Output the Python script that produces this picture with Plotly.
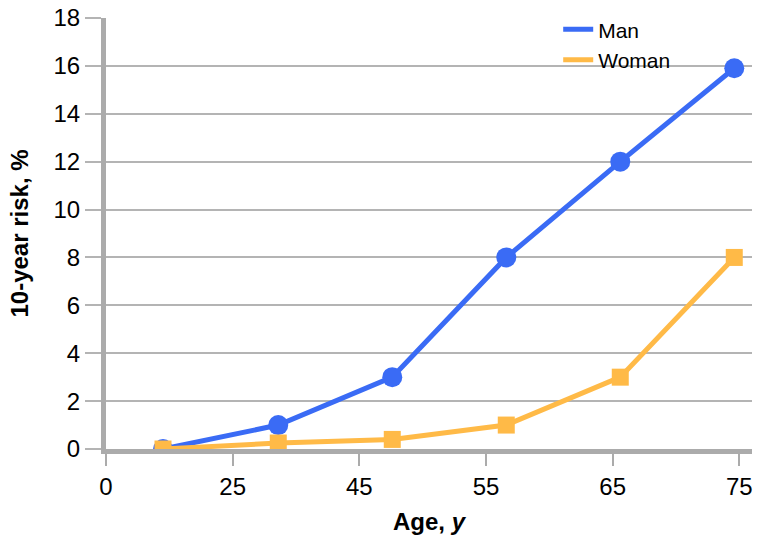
import plotly.graph_objects as go

tick_labels = ["0", "25", "45", "55", "65", "75"]
tick_pos = [0, 1, 2, 3, 4, 5]
x_pos = [0.45, 1.36, 2.26, 3.16, 4.06, 4.96]
man = [0, 1, 3, 8, 12, 15.9]
woman = [0, 0.25, 0.4, 1, 3, 8]

BLUE = "#3A6BF5"
ORANGE = "#FFBA47"
FONT = "Liberation Sans, Arial, Helvetica, sans-serif"

fig = go.Figure()
fig.add_trace(go.Scatter(x=x_pos, y=man, mode="lines+markers", showlegend=False,
                         line=dict(color=BLUE, width=5),
                         marker=dict(symbol="circle", size=20, color=BLUE)))
fig.add_trace(go.Scatter(x=x_pos, y=woman, mode="lines+markers", showlegend=False,
                         line=dict(color=ORANGE, width=5),
                         marker=dict(symbol="square", size=17, color=ORANGE)))
fig.add_trace(go.Scatter(x=[None], y=[None], mode="lines", name="Man",
                         line=dict(color=BLUE, width=5)))
fig.add_trace(go.Scatter(x=[None], y=[None], mode="lines", name="Woman",
                         line=dict(color=ORANGE, width=5)))

fig.update_layout(
    width=762, height=547,
    margin=dict(l=106, r=10, t=17, b=98),
    plot_bgcolor="white", paper_bgcolor="white",
    font=dict(family=FONT, size=22, color="black"),
    legend=dict(x=0.70, y=1.018, xanchor="left", yanchor="top",
                bgcolor="rgba(0,0,0,0)", font=dict(size=21),
                tracegroupgap=0, itemwidth=30),
    xaxis=dict(range=[0, 5.10], tickmode="array", tickvals=tick_pos, ticktext=tick_labels,
               automargin=False, tickfont=dict(size=24),
               showgrid=False, zeroline=False, showline=True, linewidth=5, linecolor="#ABABAB",
               ticks="outside", ticklen=12, tickwidth=1.5, tickcolor="#ABABAB",
               title=dict(text="<b>Age, <i>y</i></b>", standoff=16, font=dict(size=24))),
    yaxis=dict(range=[0, 18], dtick=2, showgrid=True, gridcolor="#B4B4B4", gridwidth=1.5,
               automargin=False, tickfont=dict(size=24),
               zeroline=False, showline=True, linewidth=5, linecolor="#ABABAB",
               ticks="outside", ticklen=16, tickwidth=1.5, tickcolor="#B4B4B4",
               title=dict(text="<b>10-year risk, %</b>", standoff=20, font=dict(size=24))),
)

fig.write_html("out.html", config={"displayModeBar": False},
               post_script="document.body.style.margin='0';")
